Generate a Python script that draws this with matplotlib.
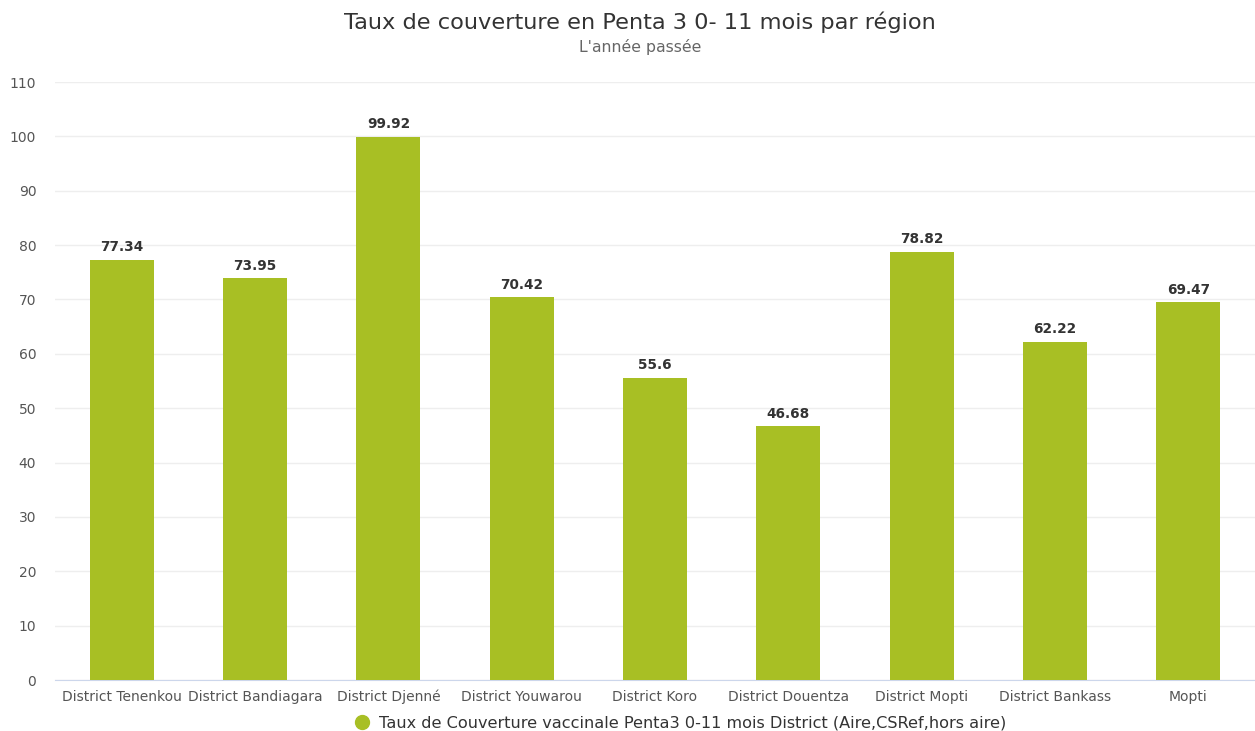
import matplotlib
matplotlib.use("Agg")
import matplotlib.pyplot as plt
from matplotlib.lines import Line2D

districts = ["District Tenenkou", "District Bandiagara", "District Djenné", "District Youwarou",
             "District Koro", "District Douentza", "District Mopti", "District Bankass", "Mopti"]
taux = [77.34, 73.95, 99.92, 70.42, 55.6, 46.68, 78.82, 62.22, 69.47]
yticks = [0, 10, 20, 30, 40, 50, 60, 70, 80, 90, 100, 110]

GREEN = "#a8bf24"

plt.rcParams["font.family"] = ["DejaVu Sans"]
fig = plt.figure(figsize=(12.55, 7.31), dpi=100)
ax = fig.add_axes([55/1255, 1 - 680/731, 1 - 55/1255, (680 - 82)/731])

x = range(len(districts))
ax.bar(x, taux, width=0.48, color=GREEN, zorder=3)
for xi, v in zip(x, taux):
    ax.text(xi, v + 1.0, f"{v:g}", ha="center", va="bottom", fontsize=9.8,
            fontweight="bold", color="#333333", zorder=4)

ax.set_xlim(-0.5, len(districts) - 0.5)
ax.set_ylim(0, 110)
ax.set_yticks(yticks)
ax.set_xticks(list(x))
ax.set_xticklabels(districts)
ax.tick_params(axis="x", length=0, pad=7, labelsize=10, labelcolor="#555555")
ax.tick_params(axis="y", length=0, pad=13.5, labelsize=10, labelcolor="#555555")
ax.grid(axis="y", color="#eeeeee", linewidth=1, zorder=0)
for s in ["top", "right", "left"]:
    ax.spines[s].set_visible(False)
ax.spines["bottom"].set_color("#ccd6eb")

fig.text(0.5095, 1 - 22/731, "Taux de couverture en Penta 3 0- 11 mois par région",
         ha="center", va="center", fontsize=16.2, color="#333333")
fig.text(0.51, 1 - 47/731, "L'année passée", ha="center", va="center",
         fontsize=11.3, color="#666666")

handle = Line2D([], [], marker="o", linestyle="none", markersize=10, color=GREEN)
fig.legend([handle], ["Taux de Couverture vaccinale Penta3 0-11 mois District (Aire,CSRef,hors aire)"],
           loc="center", bbox_to_anchor=(0.539, 1 - 723/731), frameon=False, fontsize=11.6,
           handletextpad=0.05, labelcolor="#333333")

fig.savefig("out.png", dpi=100, facecolor="white")
